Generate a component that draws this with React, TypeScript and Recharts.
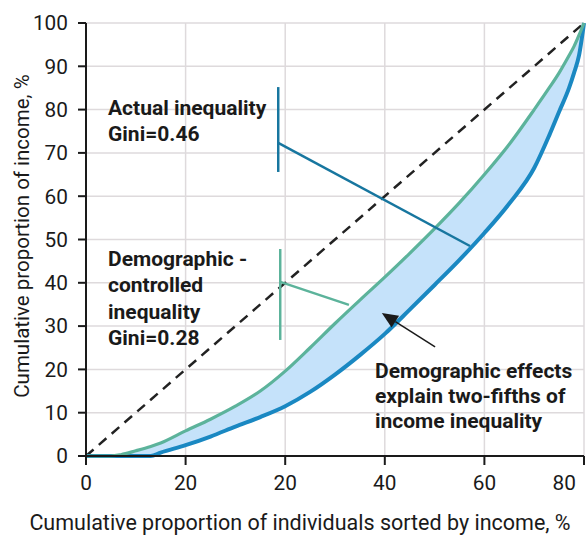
import React from "react";
import {
  ComposedChart,
  Line,
  Area,
  XAxis,
  YAxis,
  CartesianGrid,
  ReferenceLine,
  Label,
} from "recharts";

// cumulative share of individuals (x) and of income (y), %
const shareOfPeople = [0, 5, 7, 10, 13, 15, 20, 25, 30, 35, 40, 45, 50, 55, 60, 65, 70, 75, 80, 85, 90, 93, 95, 97, 98, 99, 100];
const controlledIncome = [0, 0, 0.3, 1.2, 2.2, 3, 5.8, 8.5, 11.5, 15, 19.6, 25, 30.6, 36, 41.3, 46.8, 52.5, 58.5, 65, 72, 80, 85, 88.5, 92.5, 94.6, 97.2, 100];
const actualIncome = [0, 0, 0, 0, 0, 0.8, 2.5, 4.5, 6.8, 9, 11.5, 14.8, 18.8, 23.3, 28.2, 33.8, 39.5, 45.3, 51.5, 58.3, 66.5, 74, 79.5, 85, 88.5, 92.5, 100];

const xTicks = [0, 20, 40, 60, 80, 100];
const xTickLabels = ["0", "20", "20", "40", "60", "80"];
const yTicks = [0, 10, 20, 30, 40, 50, 60, 70, 80, 90, 100];

const data = shareOfPeople.map((x, i) => ({
  x,
  actual: actualIncome[i],
  controlled: controlledIncome[i],
  band: [actualIncome[i], controlledIncome[i]],
}));

const FONT = "Roboto, 'Noto Sans', sans-serif";
const INK = "#1a1a1a";
const BLUE = "#1a88c2";
const BLUE_DARK = "#17769f";
const GREEN = "#5cb39b";

const XTick = (props: any) => {
  const { x, y, payload } = props;
  const idx = xTicks.indexOf(payload.value);
  const last = payload.value === 100;
  return (
    <text
      x={last ? x + 1 : x}
      y={y}
      dy="0.71em"
      textAnchor={last ? "end" : "middle"}
      fontSize={20.8}
      fontFamily={FONT}
      fill={INK}
    >
      {xTickLabels[idx]}
    </text>
  );
};

const ArrowShape = (props: any) => {
  const { x1, y1, x2, y2 } = props;
  // tip is the left end
  const tip = x1 < x2 ? { x: x1, y: y1 } : { x: x2, y: y2 };
  const tail = x1 < x2 ? { x: x2, y: y2 } : { x: x1, y: y1 };
  const dx = tip.x - tail.x;
  const dy = tip.y - tail.y;
  const len = Math.sqrt(dx * dx + dy * dy);
  const ux = dx / len;
  const uy = dy / len;
  const headLen = 16;
  const half = 7;
  const bx = tip.x - ux * headLen;
  const by = tip.y - uy * headLen;
  const pts = `${tip.x},${tip.y} ${bx - uy * half},${by + ux * half} ${bx + uy * half},${by - ux * half}`;
  return (
    <g>
      <line x1={tail.x} y1={tail.y} x2={bx} y2={by} stroke={INK} strokeWidth={1.5} />
      <polygon points={pts} fill={INK} />
    </g>
  );
};

const noteStyle: React.CSSProperties = {
  position: "absolute",
  fontFamily: FONT,
  fontWeight: 700,
  fontSize: 21,
  color: INK,
  whiteSpace: "nowrap",
};

export default function App() {
  return (
    <div
      style={{
        position: "fixed",
        left: 0,
        top: 0,
        width: 587,
        height: 535,
        overflow: "hidden",
        background: "#fff",
      }}
    >
      <div style={{ position: "absolute", left: 8, top: 8, width: 579, height: 527 }}>
        <ComposedChart
          width={579}
          height={527}
          data={data}
          margin={{ top: 15, right: 3, bottom: 0, left: 0 }}
        >
          <CartesianGrid stroke="#dedadc" strokeWidth={1.5} />
          <XAxis
            dataKey="x"
            type="number"
            domain={[0, 100]}
            ticks={xTicks}
            height={79}
            tickSize={9}
            tickMargin={10}
            tick={<XTick />}
            axisLine={{ stroke: INK, strokeWidth: 2 }}
            tickLine={{ stroke: INK, strokeWidth: 2 }}
          >
            <Label
              content={(p: any) => {
                const vb = p.viewBox;
                return (
                  <text
                    x={vb.x + vb.width / 2 - 35}
                    y={vb.y + vb.height - 5}
                    textAnchor="middle"
                    fontSize={21.5}
                    fontFamily={FONT}
                    fill={INK}
                  >
                    Cumulative proportion of individuals sorted by income, %
                  </text>
                );
              }}
            />
          </XAxis>
          <YAxis
            type="number"
            domain={[0, 100]}
            ticks={yTicks}
            width={78}
            tickSize={8}
            tickMargin={10}
            tick={{ fontSize: 20.8, fontFamily: FONT, fill: INK }}
            axisLine={{ stroke: INK, strokeWidth: 2 }}
            tickLine={{ stroke: INK, strokeWidth: 2 }}
          >
            <Label
              content={(p: any) => {
                const vb = p.viewBox;
                const cx = vb.x + 14;
                const cy = vb.y + vb.height / 2 - 3.5;
                return (
                  <text
                    x={cx}
                    y={cy}
                    dy="0.36em"
                    transform={`rotate(-90, ${cx}, ${cy})`}
                    textAnchor="middle"
                    fontSize={20.5}
                    fontFamily={FONT}
                    fill={INK}
                  >
                    Cumulative proportion of income, %
                  </text>
                );
              }}
            />
          </YAxis>
          <Area
            dataKey="band"
            type="monotone"
            fill="#c5e2fa"
            fillOpacity={1}
            stroke="none"
            isAnimationActive={false}
          />
          <ReferenceLine
            segment={[{ x: 0, y: 0 }, { x: 100, y: 100 }]}
            stroke="#222"
            strokeWidth={2.5}
            strokeDasharray="10 7"
          />
          <Line
            dataKey="actual"
            type="monotone"
            stroke={BLUE}
            strokeWidth={4}
            dot={false}
            isAnimationActive={false}
          />
          <Line
            dataKey="controlled"
            type="monotone"
            stroke={GREEN}
            strokeWidth={3.2}
            dot={false}
            isAnimationActive={false}
          />
          <ReferenceLine
            segment={[{ x: 38.6, y: 85.2 }, { x: 38.6, y: 65.6 }]}
            stroke={BLUE_DARK}
            strokeWidth={2.5}
          />
          <ReferenceLine
            segment={[{ x: 38.6, y: 72.3 }, { x: 77.1, y: 48.5 }]}
            stroke={BLUE_DARK}
            strokeWidth={2.5}
          />
          <ReferenceLine
            segment={[{ x: 39, y: 47.8 }, { x: 39, y: 26.8 }]}
            stroke={GREEN}
            strokeWidth={2.5}
          />
          <ReferenceLine
            segment={[{ x: 39, y: 40.2 }, { x: 52.8, y: 34.9 }]}
            stroke={GREEN}
            strokeWidth={2.5}
          />
          <ReferenceLine
            segment={[{ x: 70.1, y: 25.2 }, { x: 59.4, y: 33 }]}
            shape={ArrowShape}
          />
        </ComposedChart>

        <div style={{ ...noteStyle, left: 100, top: 86.8, lineHeight: "26.5px" }}>
          Actual inequality
          <br />
          Gini=0.46
        </div>
        <div style={{ ...noteStyle, left: 100, top: 237.8, lineHeight: "26.5px" }}>
          Demographic -
          <br />
          controlled
          <br />
          inequality
          <br />
          Gini=0.28
        </div>
        <div style={{ ...noteStyle, left: 367, top: 350.5, lineHeight: "25px" }}>
          Demographic effects
          <br />
          explain two-fifths of
          <br />
          income inequality
        </div>
      </div>
    </div>
  );
}
